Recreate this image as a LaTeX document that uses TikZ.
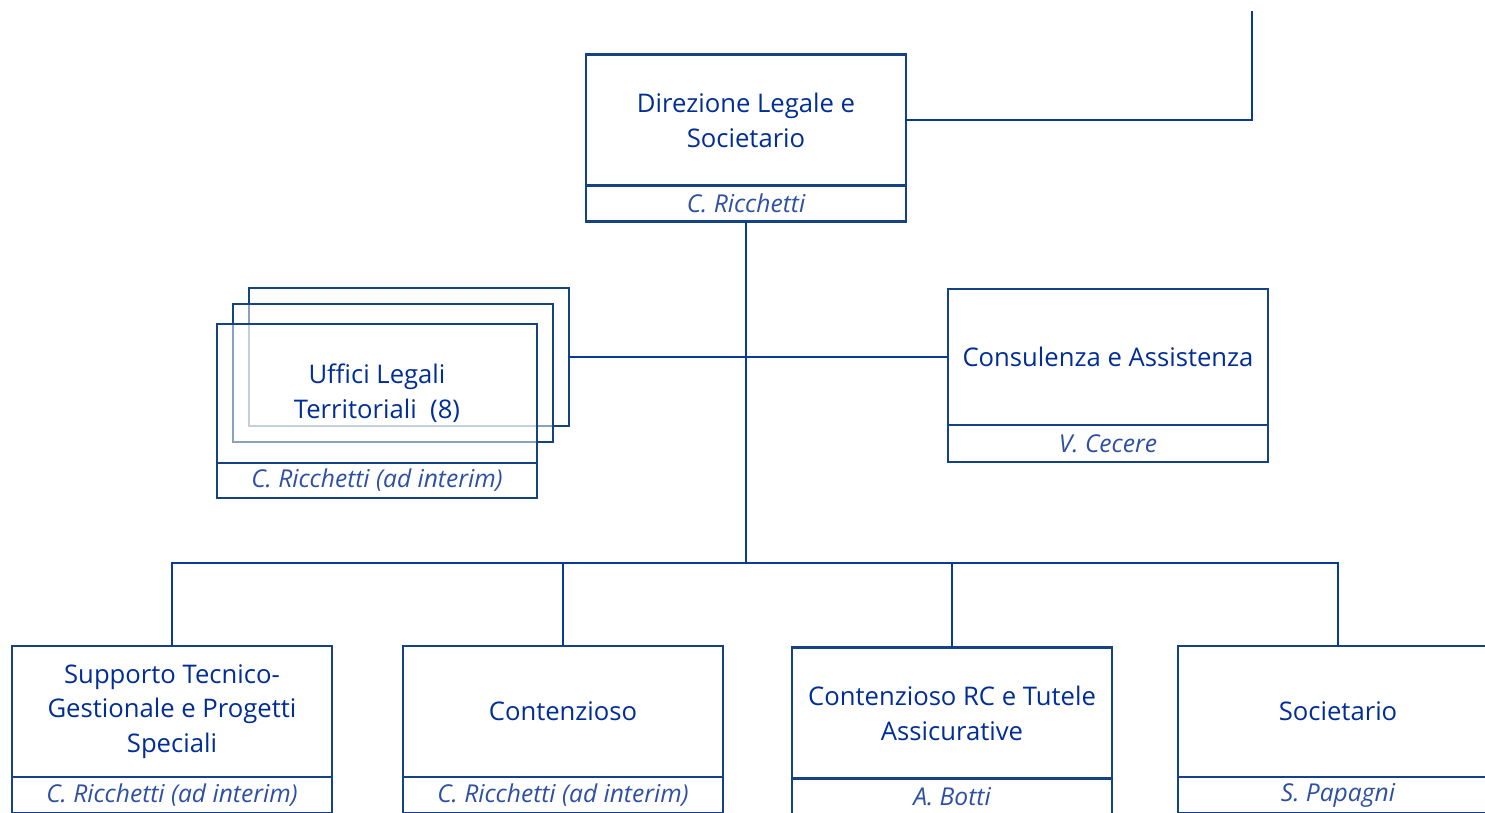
\documentclass[tikz,border=0pt]{standalone}
\usepackage{fontspec}
\setmainfont{Open Sans}
\usetikzlibrary{positioning}
\definecolor{unitblue}{RGB}{0,45,150}
\definecolor{nameblue}{RGB}{45,80,165}
\definecolor{edgeblue}{RGB}{20,66,132}
\definecolor{wireblue}{RGB}{8,58,150}
\begin{document}
\begin{tikzpicture}[
  unit/.style={draw=edgeblue, line width=1.6pt, fill=white, rectangle, outer sep=0pt, inner sep=0pt,
    minimum width=6.4cm, minimum height=2.62cm, align=center, text=unitblue,
    font=\fontsize{14.6}{19.8}\selectfont},
  ghost/.style={unit, fill opacity=0.5, text opacity=1},
  who/.style={draw=edgeblue, line width=1.6pt, fill=white, rectangle, outer sep=0pt, inner sep=0pt,
    minimum width=6.4cm, minimum height=0.72cm, text=nameblue,
    font=\fontsize{14}{17}\selectfont\itshape},
  wire/.style={draw=wireblue, line width=1.3pt}]
\useasboundingbox (0,0) rectangle (29.7,-16.24);
\clip (0,0) rectangle (29.7,-16.24);

% head of the direction
\node[unit] (head) at (14.92,-2.40) {Direzione Legale e\\Societario};
\node[who, below=0pt of head] (headname) {C. Ricchetti};

% territorial offices, stacked
\node[ghost, minimum height=2.76cm] (officesback) at (8.18,-7.14) {};
\node[ghost, minimum height=2.76cm] (officesmid) at (7.86,-7.46) {};
\node[ghost, minimum height=2.78cm] (offices) at (7.54,-7.87) {Uffici Legali\\Territoriali~~(8)};
\node[who, minimum height=0.70cm, below=0pt of offices] (officesname) {C. Ricchetti (ad interim)};

\node[unit, minimum height=2.72cm] (consult) at (22.16,-7.14) {Consulenza e Assistenza};
\node[who, minimum height=0.74cm, below=0pt of consult] (consultname) {V. Cecere};

% bottom row
\node[unit] (support) at (3.44,-14.23) {Supporto Tecnico-\\Gestionale e Progetti\\Speciali};
\node[who, below=0pt of support] (supportname) {C. Ricchetti (ad interim)};
\node[unit] (litig) at (11.26,-14.23) {Contenzioso};
\node[who, below=0pt of litig] (litigname) {C. Ricchetti (ad interim)};
\node[unit] (rcins) at (19.04,-14.26) {Contenzioso RC e Tutele\\Assicurative};
\node[who, below=0pt of rcins] (rcinsname) {A. Botti};
\node[unit] (corp) at (26.76,-14.23) {Societario};
\node[who, below=0pt of corp] (corpname) {S. Papagni};

% connectors
\coordinate (ceiling) at (25.04,-0.22);
\coordinate (bus) at (14.92,-11.26);
\draw[wire] (head.east) -| (ceiling);
\draw[wire] (headname.south) -- (bus);
\draw[wire] (officesback.east) -- (consult.west);
\foreach \b in {support,litig,rcins,corp}
  \draw[wire] (bus) -| (\b.north);
\end{tikzpicture}
\end{document}
